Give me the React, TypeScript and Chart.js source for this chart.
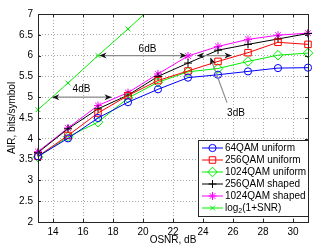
import React, { useEffect, useRef } from "react";
import { Chart, registerables } from "chart.js";

Chart.register(...registerables);

// ---- data ----
const osnr = [13, 15, 17, 19, 21, 23, 25, 27, 29, 31];
const qam64Uniform = [3.58, 4.01, 4.5, 4.88, 5.19, 5.47, 5.54, 5.62, 5.7, 5.71];
const qam256Uniform = [3.58, 4.08, 4.62, 5.04, 5.4, 5.63, 5.86, 6.07, 6.32, 6.27];
const qam1024Uniform = [3.56, 4.05, 4.4, 4.98, 5.36, 5.61, 5.69, 5.86, 6.01, 6.06];
const qam256Shaped = [3.67, 4.24, 4.72, 5.05, 5.5, 5.82, 6.13, 6.27, 6.4, 6.53];
const qam1024Shaped = [3.69, 4.26, 4.8, 5.11, 5.56, 5.99, 6.22, 6.39, 6.49, 6.54];
const shannonOsnr = [13, 15, 17, 19, 21];
const shannon = [4.7, 5.34, 6.0, 6.64, 7.3];

const xTicks = [14, 16, 18, 20, 22, 24, 26, 28, 30];
const yTicks = [2, 2.5, 3, 3.5, 4, 4.5, 5, 5.5, 6, 6.5, 7];

const seriesNames = [
  "64QAM uniform",
  "256QAM uniform",
  "1024QAM uniform",
  "256QAM shaped",
  "1024QAM shaped",
  "log2(1+SNR)",
];

// annotation (data-coordinate) definitions
const dbArrowLabels = ["6dB", "4dB", ""];
const dbArrowY = [6, 5, 6];
const dbArrowFrom = [17.1, 13.95, 23.6];
const dbArrowTo = [22.9, 17.9, 25.9];
const dbLabelX = [20.3, 15.9, 0];
const dbLabelY = [6.15, 5.19, 0];
const pointerLabel = "3dB";
const pointerFrom = [25.6, 4.87];
const pointerTo = [24.5, 5.95];
const pointerLabelPos = [26.2, 4.62];

const FONT = "'Liberation Sans', Arial, Helvetica, sans-serif";
const BLUE = "#0000ff";
const RED = "#ff0000";
const GREEN = "#00ee00";
const BLACK = "#000000";
const MAGENTA = "#ff00ff";

const colors = [BLUE, RED, GREEN, BLACK, MAGENTA, GREEN];
const styles: any[] = ["circle", "rect", "rectRot", "cross", "star", "crossRot"];
const radii = [3.6, 4.6, 4.8, 4, 4, 3.4];

function arrowHead(ctx: CanvasRenderingContext2D, x: number, y: number, ang: number) {
  const len = 7;
  const w = 3;
  ctx.save();
  ctx.translate(x, y);
  ctx.rotate(ang);
  ctx.beginPath();
  ctx.moveTo(0, 0);
  ctx.lineTo(-len, -w);
  ctx.lineTo(-len * 0.7, 0);
  ctx.lineTo(-len, w);
  ctx.closePath();
  ctx.fillStyle = "#111";
  ctx.fill();
  ctx.restore();
}

function drawMarker(ctx: CanvasRenderingContext2D, style: string, r: number, x: number, y: number, color: string) {
  ctx.save();
  ctx.strokeStyle = color;
  ctx.lineWidth = 1;
  ctx.beginPath();
  const s = r / Math.SQRT2;
  switch (style) {
    case "circle":
      ctx.arc(x, y, r, 0, Math.PI * 2);
      break;
    case "rect":
      ctx.rect(x - s, y - s, 2 * s, 2 * s);
      break;
    case "rectRot":
      ctx.moveTo(x, y - r);
      ctx.lineTo(x + r, y);
      ctx.lineTo(x, y + r);
      ctx.lineTo(x - r, y);
      ctx.closePath();
      break;
    case "cross":
      ctx.moveTo(x - r, y);
      ctx.lineTo(x + r, y);
      ctx.moveTo(x, y - r);
      ctx.lineTo(x, y + r);
      break;
    case "star":
      ctx.moveTo(x - r, y);
      ctx.lineTo(x + r, y);
      ctx.moveTo(x, y - r);
      ctx.lineTo(x, y + r);
      ctx.moveTo(x - s, y - s);
      ctx.lineTo(x + s, y + s);
      ctx.moveTo(x - s, y + s);
      ctx.lineTo(x + s, y - s);
      break;
    case "crossRot":
      ctx.moveTo(x - s, y - s);
      ctx.lineTo(x + s, y + s);
      ctx.moveTo(x - s, y + s);
      ctx.lineTo(x + s, y - s);
      break;
  }
  ctx.stroke();
  ctx.restore();
}

const decorPlugin = {
  id: "decor",
  afterDraw(chart: any) {
    const ctx: CanvasRenderingContext2D = chart.ctx;
    const { left, right, top, bottom } = chart.chartArea;
    const xs = chart.scales.x;
    const ys = chart.scales.y;
    ctx.save();

    // box + inward ticks
    ctx.strokeStyle = "#262626";
    ctx.lineWidth = 1;
    ctx.setLineDash([]);
    ctx.strokeRect(Math.round(left) + 0.5, Math.round(top) + 0.5, Math.round(right - left), Math.round(bottom - top));
    ctx.beginPath();
    xTicks.forEach((t) => {
      const px = Math.round(xs.getPixelForValue(t)) + 0.5;
      ctx.moveTo(px, bottom);
      ctx.lineTo(px, bottom - 3);
      ctx.moveTo(px, top);
      ctx.lineTo(px, top + 3);
    });
    yTicks.forEach((t) => {
      const py = Math.round(ys.getPixelForValue(t)) + 0.5;
      ctx.moveTo(left, py);
      ctx.lineTo(left + 3, py);
      ctx.moveTo(right, py);
      ctx.lineTo(right - 3, py);
    });
    ctx.stroke();

    // dB arrows
    ctx.font = `10px ${FONT}`;
    ctx.fillStyle = "#000";
    ctx.textAlign = "center";
    ctx.textBaseline = "middle";
    dbArrowY.forEach((yv, i) => {
      const y = ys.getPixelForValue(yv);
      const x1 = xs.getPixelForValue(dbArrowFrom[i]);
      const x2 = xs.getPixelForValue(dbArrowTo[i]);
      ctx.strokeStyle = "#8c8c8c";
      ctx.lineWidth = 1.2;
      ctx.beginPath();
      ctx.moveTo(x1, y);
      ctx.lineTo(x2, y);
      ctx.stroke();
      arrowHead(ctx, x1, y, Math.PI);
      arrowHead(ctx, x2, y, 0);
      if (dbArrowLabels[i]) {
        ctx.fillStyle = "#000";
        ctx.fillText(dbArrowLabels[i], xs.getPixelForValue(dbLabelX[i]), ys.getPixelForValue(dbLabelY[i]));
      }
    });
    // pointer
    const fx = xs.getPixelForValue(pointerFrom[0]);
    const fy = ys.getPixelForValue(pointerFrom[1]);
    const tx = xs.getPixelForValue(pointerTo[0]);
    const ty = ys.getPixelForValue(pointerTo[1]);
    ctx.strokeStyle = "#8c8c8c";
    ctx.lineWidth = 1.2;
    ctx.beginPath();
    ctx.moveTo(fx, fy);
    ctx.lineTo(tx, ty);
    ctx.stroke();
    arrowHead(ctx, tx, ty, Math.atan2(ty - fy, tx - fx));
    ctx.fillStyle = "#000";
    ctx.fillText(pointerLabel, xs.getPixelForValue(pointerLabelPos[0]), ys.getPixelForValue(pointerLabelPos[1]));

    // legend
    const lw = 110;
    const lh = 76;
    const lx = Math.round(right - lw);
    const ly = Math.round(bottom - 6 - lh);
    ctx.fillStyle = "#fff";
    ctx.fillRect(lx, ly, lw, lh);
    ctx.strokeStyle = "#262626";
    ctx.lineWidth = 1;
    ctx.strokeRect(lx + 0.5, ly + 0.5, lw, lh);
    chart.data.datasets.forEach((ds: any, i: number) => {
      const cy = ly + 8 + i * 12;
      ctx.strokeStyle = ds.borderColor;
      ctx.lineWidth = 1;
      ctx.beginPath();
      ctx.moveTo(lx + 4, cy);
      ctx.lineTo(lx + 25, cy);
      ctx.stroke();
      drawMarker(ctx, ds.pointStyle, ds.pointRadius, lx + 14.5, cy, ds.borderColor);
      ctx.fillStyle = "#000";
      ctx.textAlign = "left";
      ctx.textBaseline = "middle";
      ctx.font = `10px ${FONT}`;
      const name = seriesNames[i];
      if (name.startsWith("log2")) {
        const tx0 = lx + 27;
        ctx.fillText("log", tx0, cy);
        const w1 = ctx.measureText("log").width;
        ctx.font = `7px ${FONT}`;
        ctx.fillText("2", tx0 + w1, cy + 3);
        const w2 = ctx.measureText("2").width;
        ctx.font = `10px ${FONT}`;
        ctx.fillText(name.slice(4), tx0 + w1 + w2, cy);
      } else {
        ctx.fillText(name, lx + 27, cy);
      }
    });

    // axis titles
    ctx.fillStyle = "#000";
    ctx.font = `10px ${FONT}`;
    ctx.textAlign = "center";
    ctx.textBaseline = "middle";
    ctx.fillText("OSNR, dB", (left + right) / 2, bottom + 18);
    ctx.save();
    ctx.translate(12, (top + bottom) / 2);
    ctx.rotate(-Math.PI / 2);
    ctx.fillText("AIR, bits/symbol", 0, 0);
    ctx.restore();

    ctx.restore();
  },
};

export default function App() {
  const ref = useRef<HTMLCanvasElement>(null);
  useEffect(() => {
    const series = [qam64Uniform, qam256Uniform, qam1024Uniform, qam256Shaped, qam1024Shaped];
    const datasets: any[] = series.map((vals, i) => ({
      label: seriesNames[i],
      data: osnr.map((x, j) => ({ x, y: vals[j] })),
      borderColor: colors[i],
      backgroundColor: "rgba(0,0,0,0)",
      borderWidth: 1,
      pointStyle: styles[i],
      pointRadius: radii[i],
      pointBorderWidth: 1,
      pointBorderColor: colors[i],
      pointBackgroundColor: "rgba(0,0,0,0)",
      clip: { left: 8, right: 8, top: 0, bottom: 8 },
    }));
    datasets.push({
      label: seriesNames[5],
      data: shannonOsnr.map((x, j) => ({ x, y: shannon[j] })),
      borderColor: colors[5],
      backgroundColor: "rgba(0,0,0,0)",
      borderWidth: 1,
      pointStyle: styles[5],
      pointRadius: radii[5],
      pointBorderWidth: 1,
      pointBorderColor: colors[5],
      pointBackgroundColor: "rgba(0,0,0,0)",
      clip: { left: 8, right: 8, top: 0, bottom: 8 },
    });
    datasets.forEach((d, i) => (d.order = i));

    const gridCommon = {
      color: "#a8a8a8",
      lineWidth: 1,
      drawTicks: false,
    };
    const borderCommon = { display: true, color: "#262626", width: 1, dash: [1, 2] };

    const chart = new Chart(ref.current!, {
      type: "line",
      data: { datasets },
      options: {
        animation: false,
        responsive: false,
        devicePixelRatio: 1,
        layout: { padding: { top: 14, right: 11, left: 0, bottom: 0 } },
        plugins: { legend: { display: false }, tooltip: { enabled: false } },
        scales: {
          x: {
            type: "linear",
            min: 13,
            max: 31,
            afterBuildTicks: (s: any) => {
              s.ticks = xTicks.map((v) => ({ value: v }));
            },
            afterFit: (s: any) => {
              s.height = 27;
            },
            grid: gridCommon,
            border: borderCommon as any,
            ticks: {
              color: "#000",
              font: { family: FONT, size: 10 },
              padding: 4,
              maxRotation: 0,
              autoSkip: false,
              callback: (v: any) => String(v),
            },
          },
          y: {
            type: "linear",
            min: 2,
            max: 7,
            afterBuildTicks: (s: any) => {
              s.ticks = yTicks.map((v) => ({ value: v }));
            },
            afterFit: (s: any) => {
              s.width = 38;
            },
            grid: gridCommon,
            border: borderCommon as any,
            ticks: {
              color: "#000",
              font: { family: FONT, size: 10 },
              padding: 5,
              autoSkip: false,
              callback: (v: any) => String(v),
            },
          },
        },
      },
      plugins: [decorPlugin],
    });
    return () => chart.destroy();
  }, []);
  return (
    <div style={{ position: "absolute", left: 0, top: 0, width: 319, height: 249, background: "#fff" }}>
      <canvas ref={ref} width={319} height={249} style={{ display: "block", width: 319, height: 249 }} />
    </div>
  );
}
